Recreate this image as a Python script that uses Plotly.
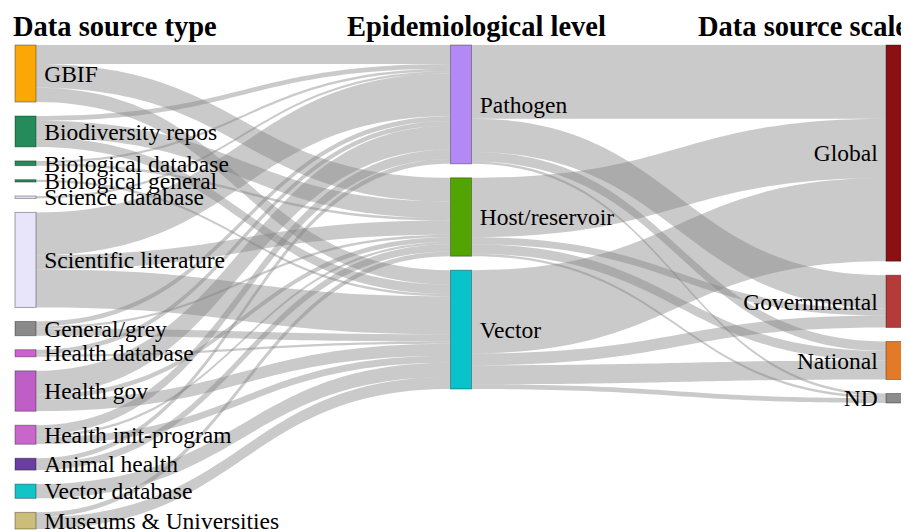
import plotly.graph_objects as go

# ---- data ----
source_types = ["GBIF", "Biodiversity repos", "Biological database", "Biological general",
                "Science database", "Scientific literature", "General/grey", "Health database",
                "Health gov", "Health init-program", "Animal health", "Vector database",
                "Museums & Universities"]
levels = ["Pathogen", "Host/reservoir", "Vector"]
scales = ["Global", "Governmental", "National", "ND"]

# flows: data source type -> epidemiological level
type_to_pathogen = [8, 2, 1, 0, 1, 18, 2, 2, 10, 4, 2, 0, 0]
type_to_host     = [10, 7, 1, 0, 0, 6, 1, 0, 2, 1, 3, 0, 2]
type_to_vector   = [6, 4, 0, 1, 0, 16, 3, 1, 5, 3, 0, 6, 5]

# flows: epidemiological level -> data source scale
level_to_global       = [31, 25, 35]
level_to_governmental = [14, 3, 5]
level_to_national     = [4, 4, 8]
level_to_nd           = [1, 1, 2]

type_colors = ["#FBA806", "#268B5A", "#268B5A", "#268B5A", "#E8E4FA", "#E8E4FA",
               "#8A8A8A", "#D060D0", "#C05EC8", "#C866CC", "#6A3FA0", "#12C4C8", "#CDBD7A"]
level_colors = ["#B38AF5", "#52A400", "#08C3CB"]
scale_colors = ["#8A1014", "#B53A3A", "#E27A28", "#8C8C8C"]

# ---- build sankey ----
GAP = "\u2009"  # thin space: small gap between node and its label
labels = ([GAP + s for s in source_types] + [GAP + s for s in levels] +
          [s + GAP for s in scales])
colors = type_colors + level_colors + scale_colors
n_t = len(source_types)
n_l = len(levels)
level_arrays = [type_to_pathogen, type_to_host, type_to_vector]
scale_arrays = [level_to_global, level_to_governmental, level_to_national, level_to_nd]

src, tgt, val = [], [], []
for i in range(n_t):
    for j, arr in enumerate(level_arrays):
        if arr[i] > 0:
            src.append(i)
            tgt.append(n_t + j)
            val.append(arr[i])
for j in range(n_l):
    for k, arr in enumerate(scale_arrays):
        if arr[j] > 0:
            src.append(n_t + j)
            tgt.append(n_t + n_l + k)
            val.append(arr[j])

# node totals per column (used to keep the original top-down order)
type_tot = [sum(a[i] for a in level_arrays) for i in range(n_t)]
level_tot = [max(sum(a[j] for a in scale_arrays), sum(level_arrays[j])) for j in range(n_l)]
scale_tot = [sum(a) for a in scale_arrays]

# page offset (default body margin) and layout geometry
OFF = 8
W, H = 909 - OFF, 532 - OFF
ml, mr, mt, mb = 15 - OFF, 2, 45 - OFF, 3
pw, ph = W - ml - mr, H - mt - mb
PAD, THICK = 14, 21

cols = [type_tot, level_tot, scale_tot]
ky = min((ph - (len(c) - 1) * PAD) / sum(c) for c in cols)
xcent = [THICK / 2 / pw, 0.5, 1 - THICK / 2 / pw]
node_x, node_y = [], []
for ci, c in enumerate(cols):
    y0 = 0.0
    for v in c:
        h = v * ky
        node_x.append(xcent[ci])
        node_y.append((y0 + h / 2) / ph)
        y0 += h + PAD

serif = "Liberation Serif, Times New Roman, serif"

fig = go.Figure(go.Sankey(
    arrangement="snap",
    node=dict(label=labels, color=colors, pad=PAD, thickness=THICK,
              x=node_x, y=node_y,
              line=dict(color="rgba(0,0,0,0.35)", width=1)),
    link=dict(source=src, target=tgt, value=val, color="rgba(128,128,128,0.42)"),
    textfont=dict(family=serif, size=23.5, color="black", shadow="none"),
    hoverinfo="none",
))


def px(x):  # screen pixel -> paper
    return (x - OFF - ml) / pw


def py(y):
    return (H - mb - (y - OFF)) / ph


title_font = dict(family=serif, size=28.5, color="black")
fig.add_annotation(text="<b>Data source type</b>", x=px(11), y=py(26), xref="paper", yref="paper",
                   xanchor="left", yanchor="middle", showarrow=False, font=title_font)
fig.add_annotation(text="<b>Epidemiological level</b>", x=px(476.5), y=py(26), xref="paper", yref="paper",
                   xanchor="center", yanchor="middle", showarrow=False, font=title_font)
fig.add_annotation(text="<b>Data source scale</b>", x=px(696), y=py(26), xref="paper", yref="paper",
                   xanchor="left", yanchor="middle", showarrow=False, font=title_font)

fig.update_layout(width=W, height=H, margin=dict(l=ml, r=mr, t=mt, b=mb),
                  paper_bgcolor="white", plot_bgcolor="white", font=dict(family=serif))
fig.write_html("out.html")
